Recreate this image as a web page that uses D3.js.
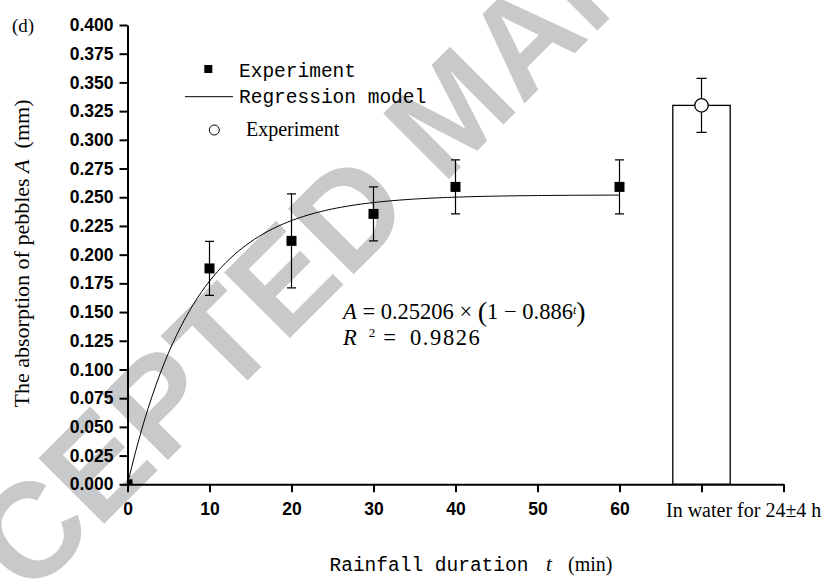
<!DOCTYPE html>
<html>
<head>
<meta charset="utf-8">
<script src="https://cdn.jsdelivr.net/npm/d3@7"></script>
<style>
  body { margin: 0; background: #fff; }
  svg { display: block; }
  .serif { font-family: "Liberation Serif", "Times New Roman", serif; }
  .mono { font-family: "Liberation Mono", "Courier New", monospace; }
</style>
</head>
<body>
<svg id="chart" width="831" height="581"></svg>
<script>
// rainfall experiment (squares with error bars)
const times = [0, 10, 20, 30, 40, 60];
const absorption = [0, 0.188, 0.212, 0.2355, 0.259, 0.259];
const errors = [0, 0.0235, 0.041, 0.0235, 0.0235, 0.0235];

// soaked in water for 24±4 h (bar + open circle)
const soakPos = [70];
const soakValue = [0.33];
const soakError = [0.0235];
const soakHalfWidth = 3.5;

// regression model A = a * (1 - b^t), coefficients as printed on the chart
const fitA = 0.25206;
const fitB = 0.886;

const xTicks = [0, 10, 20, 30, 40, 50, 60, 70, 80];
const xTickLabels = ['0', '10', '20', '30', '40', '50', '60', '', ''];
const yTicks = [0, 0.025, 0.05, 0.075, 0.1, 0.125, 0.15, 0.175, 0.2, 0.225, 0.25,
                0.275, 0.3, 0.325, 0.35, 0.375, 0.4];

const svg = d3.select('#chart');

let x = d3.scaleLinear().domain([0, 80]).range([127.5, 783.5]);
let y = d3.scaleLinear().domain([0, 0.4]).range([484.3, 25]);

// watermark behind everything
svg.append('text')
  .attr('transform', 'translate(-109, 737) rotate(-45)')
  .style('font-family', '"Liberation Sans", Arial, sans-serif')
  .style('font-weight', 'bold')
  .style('font-size', '135px')
  .style('fill', '#c8c9cb')
  .text('ACCEPTED MANUSCRIPT');

svg.append('clipPath').attr('id', 'plot')
  .append('rect')
  .attr('x', x(0)).attr('y', y(0.4) - 20)
  .attr('width', x(80) - x(0)).attr('height', y(0) - y(0.4) + 20);

let plot = svg.append('g').attr('clip-path', 'url(#plot)');

// soaking bar
plot.selectAll('rect.bar')
  .data(soakPos)
  .enter()
    .append('rect')
    .attr('class', 'bar')
    .attr('x', d => x(d - soakHalfWidth))
    .attr('y', (d, i) => y(soakValue[i]))
    .attr('width', d => x(d + soakHalfWidth) - x(d - soakHalfWidth))
    .attr('height', (d, i) => y(0) - y(soakValue[i]))
    .style('fill', '#fff')
    .style('stroke', '#000')
    .style('stroke-width', 1.3);

// error bars
function errorBars(g, xs, vals, errs, cap) {
  let eb = g.append('g').style('stroke', '#000').style('stroke-width', 1.2);
  eb.selectAll('line.v').data(xs).enter().append('line')
    .attr('x1', d => x(d)).attr('x2', d => x(d))
    .attr('y1', (d, i) => y(vals[i] + errs[i]))
    .attr('y2', (d, i) => y(vals[i] - errs[i]));
  eb.selectAll('line.t').data(xs).enter().append('line')
    .attr('x1', d => x(d) - cap).attr('x2', d => x(d) + cap)
    .attr('y1', (d, i) => y(vals[i] + errs[i]))
    .attr('y2', (d, i) => y(vals[i] + errs[i]));
  eb.selectAll('line.b').data(xs).enter().append('line')
    .attr('x1', d => x(d) - cap).attr('x2', d => x(d) + cap)
    .attr('y1', (d, i) => y(vals[i] - errs[i]))
    .attr('y2', (d, i) => y(vals[i] - errs[i]));
}
errorBars(plot, times.slice(1), absorption.slice(1), errors.slice(1), 4.5);
errorBars(plot, soakPos, soakValue, soakError, 5);

// regression curve
let tSamples = d3.range(0, 60.01, 0.5);
plot.append('path')
  .datum(tSamples)
  .attr('d', d3.line().x(t => x(t)).y(t => y(fitA * (1 - Math.pow(fitB, t)))))
  .style('fill', 'none')
  .style('stroke', '#000')
  .style('stroke-width', 1);

// experiment squares
plot.selectAll('rect.pt')
  .data(times)
  .enter()
    .append('rect')
    .attr('class', 'pt')
    .attr('x', d => x(d) - 5)
    .attr('y', (d, i) => y(absorption[i]) - 5)
    .attr('width', 10)
    .attr('height', 10)
    .style('fill', '#000');

// open circle on the bar
plot.selectAll('circle.soak')
  .data(soakPos)
  .enter()
    .append('circle')
    .attr('cx', d => x(d))
    .attr('cy', (d, i) => y(soakValue[i]))
    .attr('r', 6.7)
    .style('fill', '#fff')
    .style('stroke', '#000')
    .style('stroke-width', 1.3);

// axes
let xAxis = svg.append('g')
  .attr('transform', `translate(0, ${y(0)})`)
  .call(d3.axisBottom(x).tickValues(xTicks).tickFormat((d, i) => xTickLabels[i])
    .tickSize(8).tickSizeOuter(0).tickPadding(10));
let yAxis = svg.append('g')
  .attr('transform', `translate(${x(0)}, 0)`)
  .call(d3.axisLeft(y).tickValues(yTicks).tickFormat(d3.format('.3f'))
    .tickSize(8).tickSizeOuter(0).tickPadding(6));
[xAxis, yAxis].forEach(a => {
  a.selectAll('path, line').style('stroke', '#000').style('stroke-width', 2);
  a.selectAll('text')
    .style('font-family', '"Liberation Sans", Arial, sans-serif')
    .style('font-weight', 'bold')
    .style('font-size', '17.5px')
    .style('fill', '#000');
});

svg.append('text').attr('class', 'serif')
  .attr('x', 666).attr('y', 516.5)
  .style('font-size', '20px')
  .text('In water for 24±4 h');

// panel label
svg.append('text').attr('class', 'serif')
  .attr('x', 12).attr('y', 31.5)
  .style('font-size', '19px')
  .text('(d)');

// y title
let yt = svg.append('text').attr('class', 'serif')
  .attr('transform', 'translate(28.5, 253.5) rotate(-90)')
  .style('text-anchor', 'middle')
  .style('font-size', '22px');
yt.append('tspan').text('The absorption of pebbles ');
yt.append('tspan').style('font-style', 'italic').text('A');
yt.append('tspan').text('\u00a0 (mm)');

// x title
let xt = svg.append('text').attr('y', 571).style('font-size', '19.5px');
xt.append('tspan').attr('class', 'mono').attr('x', 329.5).text('Rainfall duration');
xt.append('tspan').attr('class', 'serif').attr('x', 546).style('font-style', 'italic')
  .style('font-size', '21px').text('t');
xt.append('tspan').attr('class', 'serif').attr('x', 568).style('font-size', '20px').text('(min)');

// legend
let lg = svg.append('g');
lg.append('rect').attr('x', 204.3).attr('y', 65).attr('width', 8).attr('height', 8).style('fill', '#000');
lg.append('text').attr('class', 'mono').attr('x', 239).attr('y', 76.5)
  .style('font-size', '19.5px').text('Experiment');
lg.append('line').attr('x1', 185).attr('x2', 233).attr('y1', 96.7).attr('y2', 96.7)
  .style('stroke', '#000').style('stroke-width', 1);
lg.append('text').attr('class', 'mono').attr('x', 239).attr('y', 103.3)
  .style('font-size', '19.5px').text('Regression model');
lg.append('circle').attr('cx', 214.3).attr('cy', 130).attr('r', 5)
  .style('fill', '#fff').style('stroke', '#000').style('stroke-width', 1);
lg.append('text').attr('class', 'serif').attr('x', 246).attr('y', 136)
  .style('font-size', '20px').text('Experiment');

// equation
let eq1 = svg.append('text').attr('class', 'serif')
  .attr('x', 343).attr('y', 319.3).style('font-size', '22.5px');
eq1.append('tspan').style('font-style', 'italic').text('A');
eq1.append('tspan').text('\u00a0=\u00a0' + fitA + '\u00a0×\u00a0');
eq1.append('tspan').attr('dy', 2).style('font-size', '28px').text('(');
eq1.append('tspan').attr('dy', -2).text('1\u00a0−\u00a0' + fitB);
eq1.append('tspan').attr('dy', -5).style('font-size', '12px').style('font-style', 'italic').text('t');
eq1.append('tspan').attr('dy', 7).style('font-size', '28px').text(')');

let eq2 = svg.append('text').attr('class', 'serif')
  .attr('x', 343).attr('y', 345).style('font-size', '22.5px');
eq2.append('tspan').style('font-style', 'italic').text('R');
eq2.append('tspan').attr('dx', 12).attr('dy', -8.5).style('font-size', '13px').text('2');
eq2.append('tspan').attr('dx', 8).attr('dy', 8.5).text('=');
eq2.append('tspan').attr('dx', 14).style('letter-spacing', '1.6px').text('0.9826');
</script>
</body>
</html>
